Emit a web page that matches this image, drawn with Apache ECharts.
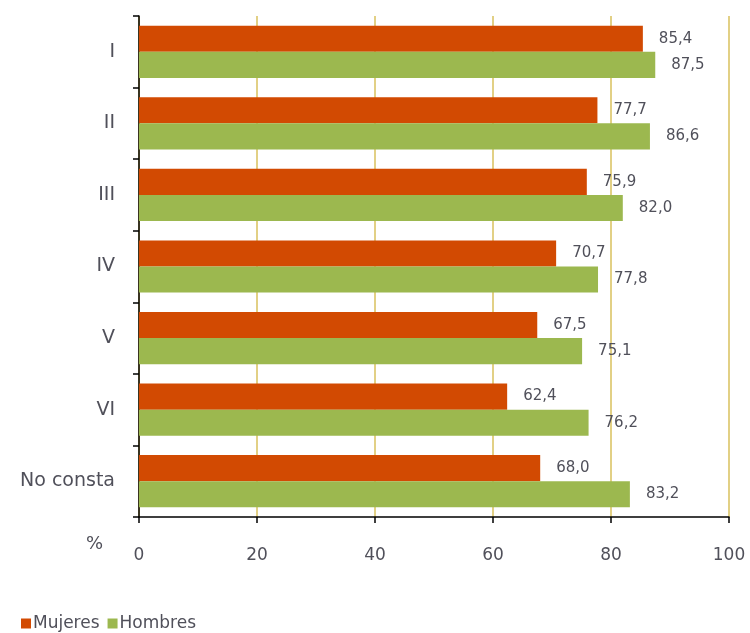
<!DOCTYPE html>
<html>
<head>
<meta charset="utf-8">
<script src="https://cdn.jsdelivr.net/npm/echarts@6/dist/echarts.min.js"></script>
<style>
  html, body { margin: 0; padding: 0; background: #fff; }
  #chart { width: 750px; height: 633px; }
</style>
</head>
<body>
<div id="chart"></div>
<script>
var categories = ['I', 'II', 'III', 'IV', 'V', 'VI', 'No consta'];
var mujeres = [85.4, 77.7, 75.9, 70.7, 67.5, 62.4, 68.0];
var hombres = [87.5, 86.6, 82.0, 77.8, 75.1, 76.2, 83.2];
var xTicks = [0, 20, 40, 60, 80, 100];

var myChart = echarts.init(document.getElementById('chart'));

function fmt(p) {
    return p.value.toFixed(1).replace('.', ',');
}

var labelStyle = {
    show: true,
    position: 'right',
    distance: 16,
    color: '#50505a',
    fontSize: 15,
    fontFamily: 'DejaVu Sans',
    formatter: fmt
};

var option = {
    animation: false,
    grid: { left: 139, right: 21, top: 16, bottom: 116, containLabel: false },
    legend: {
        left: 16,
        top: 610,
        itemWidth: 10,
        itemHeight: 10,
        itemGap: 8,
        icon: 'rect',
        textStyle: { color: '#50505a', fontSize: 17, fontFamily: 'DejaVu Sans', padding: [0, 0, 0, -3] },
        data: ['Mujeres', 'Hombres']
    },
    graphic: [{
        type: 'text',
        left: 86,
        top: 535,
        style: { text: '%', fill: '#50505a', fontSize: 18, fontFamily: 'DejaVu Sans' }
    }],
    xAxis: {
        type: 'value',
        min: xTicks[0],
        max: xTicks[xTicks.length - 1],
        interval: 20,
        axisLine: { show: true, lineStyle: { color: '#000', width: 1.5 } },
        axisTick: { show: true, length: 6, lineStyle: { color: '#000', width: 1.5 } },
        axisLabel: { margin: 30, color: '#50505a', fontSize: 17, fontFamily: 'DejaVu Sans' },
        splitLine: { show: true, lineStyle: { color: '#E2D085', width: 2 } }
    },
    yAxis: {
        type: 'category',
        inverse: true,
        data: categories,
        axisLine: { show: true, lineStyle: { color: '#000', width: 1.5 } },
        axisTick: { show: true, length: 6, lineStyle: { color: '#000', width: 1.5 } },
        axisLabel: { margin: 24, color: '#50505a', fontSize: 19, fontFamily: 'DejaVu Sans' }
    },
    series: [
        {
            name: 'Mujeres',
            type: 'bar',
            data: mujeres,
            barGap: '0%',
            barCategoryGap: '27%',
            itemStyle: { color: '#D24A02' },
            label: labelStyle
        },
        {
            name: 'Hombres',
            type: 'bar',
            data: hombres,
            itemStyle: { color: '#9CB84F' },
            label: labelStyle
        }
    ]
};
myChart.setOption(option, true);
</script>
</body>
</html>
